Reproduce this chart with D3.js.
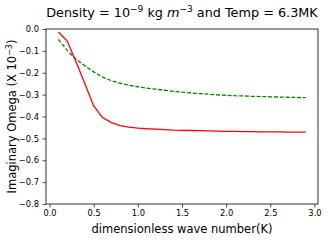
<!DOCTYPE html>
<html>
<head>
<meta charset="utf-8">
<script src="https://cdn.jsdelivr.net/npm/d3@7"></script>
<style>
  body { margin: 0; background: #fff; }
  svg { font-family: "DejaVu Sans", sans-serif; }
</style>
</head>
<body>
<div id="chart"></div>
<script>
// wave number K
var waveK = [0.1, 0.2, 0.3, 0.4, 0.5, 0.6, 0.7, 0.8, 0.9, 1.0,
             1.1, 1.2, 1.3, 1.4, 1.5, 1.6, 1.7, 1.8, 1.9, 2.0,
             2.1, 2.2, 2.3, 2.4, 2.5, 2.6, 2.7, 2.8, 2.9];
// imaginary omega (x 10^-3), red solid
var omegaRed = [-0.014, -0.055, -0.15, -0.25, -0.352, -0.405, -0.428, -0.442, -0.449, -0.453,
                -0.456, -0.458, -0.460, -0.462, -0.463, -0.464, -0.465, -0.466, -0.467, -0.468,
                -0.468, -0.469, -0.469, -0.470, -0.470, -0.470, -0.471, -0.471, -0.471];
// imaginary omega (x 10^-3), green dashed
var omegaGreen = [-0.047, -0.098, -0.138, -0.168, -0.196, -0.22, -0.236, -0.248, -0.257, -0.264,
                  -0.27, -0.275, -0.28, -0.285, -0.289, -0.292, -0.295, -0.298, -0.301, -0.303,
                  -0.305, -0.306, -0.308, -0.309, -0.310, -0.311, -0.312, -0.313, -0.314];
var xTicks = [0.0, 0.5, 1.0, 1.5, 2.0, 2.5, 3.0];
var yTicks = [0.0, -0.1, -0.2, -0.3, -0.4, -0.5, -0.6, -0.7, -0.8];

var width = 329, height = 240;
var margin = {left: 46, right: 11, top: 29, bottom: 36};

var svg = d3.select("#chart").append("svg")
  .attr("width", width)
  .attr("height", height);

var x = d3.scaleLinear().domain([-0.04, 3.04]).range([margin.left, width - margin.right]);
var y = d3.scaleLinear().domain([-0.8, 0]).range([height - margin.bottom, margin.top]);

var fmt = function(d) { return d3.format(".1f")(d).replace("-", "\u2212"); };

var xAxis = svg.append("g")
  .attr("transform", "translate(0," + (height - margin.bottom) + ")")
  .call(d3.axisBottom(x).tickValues(xTicks).tickFormat(fmt).tickSizeOuter(0).tickSize(3.5).tickPadding(2.5));

var yAxis = svg.append("g")
  .attr("transform", "translate(" + margin.left + ",0)")
  .call(d3.axisLeft(y).tickValues(yTicks).tickFormat(fmt).tickSizeOuter(0).tickSize(3.5).tickPadding(3.5));

[xAxis, yAxis].forEach(function(a) {
  a.select(".domain").remove();
  a.selectAll("text").attr("font-size", 8.3).attr("fill", "#000").attr("font-family", "DejaVu Sans");
  a.selectAll("line").attr("stroke", "#000").attr("stroke-width", 0.7);
});

// frame
svg.append("rect")
  .attr("x", margin.left)
  .attr("y", margin.top)
  .attr("width", width - margin.right - margin.left)
  .attr("height", height - margin.bottom - margin.top)
  .attr("fill", "none")
  .attr("stroke", "#000")
  .attr("stroke-width", 0.8);

var line = function(vals) {
  return d3.line()
    .x(function(d, i) { return x(waveK[i]); })
    .y(function(d) { return y(d); })(vals);
};

svg.append("path")
  .attr("d", line(omegaGreen))
  .attr("fill", "none")
  .attr("stroke", "#008000")
  .attr("stroke-width", 1.3)
  .attr("stroke-dasharray", "4,1.8");

svg.append("path")
  .attr("d", line(omegaRed))
  .attr("fill", "none")
  .attr("stroke", "#ff0000")
  .attr("stroke-width", 1.3);

// title
var title = svg.append("text")
  .attr("x", (margin.left + width - margin.right) / 2)
  .attr("y", 16.5)
  .attr("text-anchor", "middle")
  .attr("font-size", 12.8)
  .attr("fill", "#000");
title.append("tspan").text("Density = 10");
title.append("tspan").attr("dy", -4.5).attr("font-size", 9).text("\u22129");
title.append("tspan").attr("dy", 4.5).text(" kg ");
title.append("tspan").attr("font-style", "italic").text("m");
title.append("tspan").attr("dy", -4.5).attr("font-size", 9).text("\u22123");
title.append("tspan").attr("dy", 4.5).text(" and Temp = 6.3MK");

// x label
svg.append("text")
  .attr("x", (margin.left + width - margin.right) / 2)
  .attr("y", 233)
  .attr("text-anchor", "middle")
  .attr("font-size", 11.5)
  .attr("fill", "#000")
  .text("dimensionless wave number(K)");

// y label
var yl = svg.append("text")
  .attr("transform", "translate(16," + ((margin.top + height - margin.bottom) / 2) + ") rotate(-90)")
  .attr("text-anchor", "middle")
  .attr("font-size", 11.5)
  .attr("fill", "#000");
yl.append("tspan").text("Imaginary Omega (X 10");
yl.append("tspan").attr("dy", -4.5).attr("font-size", 8).text("\u22123");
yl.append("tspan").attr("dy", 4.5).text(")");
</script>
</body>
</html>
